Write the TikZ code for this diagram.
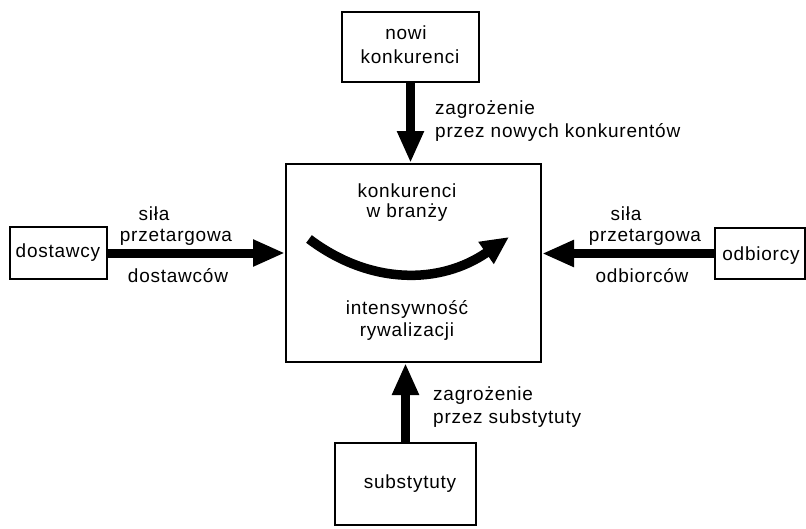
\documentclass[tikz,border=0pt]{standalone}
\usepackage{fontspec}
\setmainfont[LetterSpace=4.0]{Liberation Sans}
\usetikzlibrary{arrows.meta}
\begin{document}
\begin{tikzpicture}[x=1pt,y=-1pt,
  box/.style={draw,line width=2pt,inner sep=0pt},
  lbl/.style={inner sep=0pt,font=\fontsize{19}{24}\selectfont},
  fat/.style={line width=9pt,-{Triangle[length=32pt,width=25pt]}},
  curv/.style={line width=9.5pt,-{Triangle[length=28pt,width=25pt]}}]
\useasboundingbox (0,0) rectangle (806,528);
\fill[white] (0,0) rectangle (806,528);
% boxes
\node[box,minimum width=137pt,minimum height=70pt] (nowi) at (410.5,47) {};
\node[box,minimum width=255pt,minimum height=198pt] (center) at (413.5,263) {};
\node[box,minimum width=97pt,minimum height=52pt] (dost) at (58.5,253) {};
\node[box,minimum width=90pt,minimum height=51pt] (odb) at (760,253.5) {};
\node[box,minimum width=141pt,minimum height=82pt] (sub) at (405.5,484) {};
% box texts
\node[lbl] (t1) at (406,33) {nowi};
\node[lbl] (t2) at (410,57) {konkurenci};
\node[lbl] (t3) at (58,253) {dostawcy};
\node[lbl] (t4) at (761,256) {odbiorcy};
\node[lbl] (t5) at (410,484) {substytuty};
\node[lbl] (c1) at (407,191) {konkurenci};
\node[lbl] (c2) at (407,213) {w branży};
\node[lbl] (c3) at (407,309) {intensywność};
\node[lbl] (c4) at (407,332) {rywalizacji};
% labels
\node[lbl,anchor=west] (z1) at (435,110) {zagrożenie};
\node[lbl,anchor=west] (z2) at (435,132) {przez nowych konkurentów};
\node[lbl,anchor=west] (z3) at (433,396) {zagrożenie};
\node[lbl,anchor=west] (z4) at (433,419) {przez substytuty};
\node[lbl] (s1) at (154,214) {siła};
\node[lbl] (s2) at (176,237) {przetargowa};
\node[lbl] (s3) at (178,276) {dostawców};
\node[lbl] (r1) at (626,214) {siła};
\node[lbl] (r2) at (645,237) {przetargowa};
\node[lbl] (r3) at (642,276) {odbiorców};
% arrows
\draw[fat] (nowi.south) -- (nowi.south |- center.north);
\draw[fat] (sub.north) -- (sub.north |- center.south);
\draw[fat] (dost.east) -- (dost.east -| center.west);
\draw[fat] (odb.west) -- (odb.west -| center.east);
% curved arrow
\coordinate (ca) at (309,239);
\coordinate (cb) at (509,237);
\draw[curv] (ca) .. controls (370,285) and (440,285) .. (cb);
\end{tikzpicture}
\end{document}
